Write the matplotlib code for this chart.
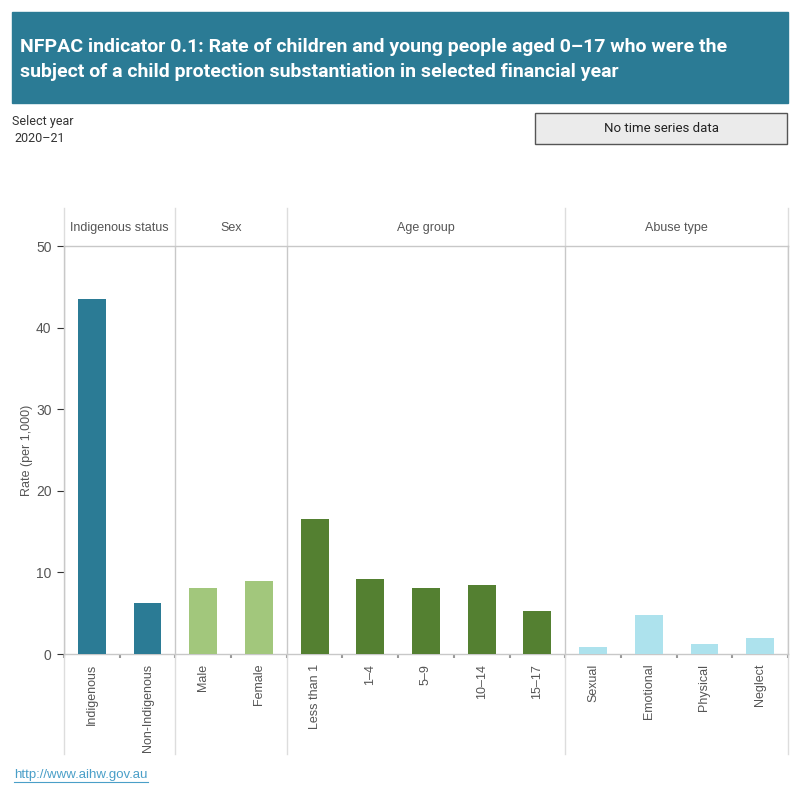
import numpy as np
import matplotlib
matplotlib.use("Agg")
import matplotlib.pyplot as plt
from matplotlib.lines import Line2D
from matplotlib.patches import Rectangle

# data
groups = ["Indigenous status", "Sex", "Age group", "Abuse type"]
group_colors = ["#2b7b95", "#a2c77c", "#548031", "#ade2ed"]
indig_labels = ["Indigenous", "Non-Indigenous"]
indig_rates = [43.5, 6.2]
sex_labels = ["Male", "Female"]
sex_rates = [8.1, 9.0]
age_labels = ["Less than 1", "1\u20134", "5\u20139", "10\u201314", "15\u201317"]
age_rates = [16.6, 9.2, 8.1, 8.4, 5.3]
abuse_labels = ["Sexual", "Emotional", "Physical", "Neglect"]
abuse_rates = [0.9, 4.8, 1.2, 2.0]
yticks = [0, 10, 20, 30, 40, 50]

plt.rcParams['font.family'] = ['Roboto', 'DejaVu Sans']
lib = ["Liberation Sans", "DejaVu Sans"]

fig = plt.figure(figsize=(8, 8), dpi=100)

# title banner
fig.patches.append(Rectangle((12/800, 1-103/800), 776/800, 91/800,
                             transform=fig.transFigure, color="#2b7b95", zorder=0))
fig.text(20/800, 1-47/800, "NFPAC indicator 0.1: Rate of children and young people aged 0\u201317 who were the",
         color="white", fontsize=14, fontweight="bold", va="center", ha="left")
fig.text(20/800, 1-72/800, "subject of a child protection substantiation in selected financial year",
         color="white", fontsize=14, fontweight="bold", va="center", ha="left")

fig.text(12/800, 1-122/800, "Select year", fontsize=9, color="#333333", va="center")
fig.text(14/800, 1-138/800, "2020\u201321", fontsize=9, color="#333333", va="center")

fig.patches.append(Rectangle((535/800, 1-144/800), 252/800, 31/800, transform=fig.transFigure,
                             facecolor="#ebebeb", edgecolor="#555555", linewidth=1))
fig.text(661/800, 1-129/800, "No time series data", fontsize=9.5, color="#222222",
         ha="center", va="center")

fig.text(14/800, 1-775/800, "http://www.aihw.gov.au", fontsize=9.5, color="#4a9fc8",
         va="center", ha="left", family=lib)
fig.lines.append(Line2D([14/800, 148/800], [1-782/800, 1-782/800], transform=fig.transFigure,
                        color="#4a9fc8", linewidth=0.8))

ax = fig.add_axes([64/800, 146/800, 724/800, 408/800])

sets = [(indig_labels, indig_rates), (sex_labels, sex_rates),
        (age_labels, age_rates), (abuse_labels, abuse_rates)]
labels, pos = [], []
bounds = [0]
i = 0
for (labs, vals), col in zip(sets, group_colors):
    x = np.arange(len(vals)) + i + 0.5
    ax.bar(x, vals, width=0.5, color=col, zorder=3)
    labels += labs
    pos += list(x)
    i += len(vals)
    bounds.append(i)

ax.set_xlim(0, bounds[-1])
ax.set_ylim(0, 50)

ax.set_xticks(pos)
ax.set_xticklabels(labels, rotation=90, va="top", ha="center", fontsize=9, color="#555555",
                   family=lib)
ax.tick_params(axis="x", length=0, pad=7)
ax.set_xticks(np.arange(bounds[-1] + 1), minor=True)
ax.tick_params(axis="x", which="minor", length=3, color="#999999", width=1.5)

ax.set_yticks(yticks)
ax.set_yticklabels([str(v) for v in yticks], fontsize=10, color="#555555", family=lib)
ax.tick_params(axis="y", length=5, color="#333333", pad=4)
ax.set_ylabel("Rate (per 1,000)", fontsize=9, color="#555555", labelpad=2, family=lib)

for s in ax.spines.values():
    s.set_color("#c8c8c8")
    s.set_linewidth(1)

trans = ax.get_xaxis_transform()
top = (654 - 208) / 408
bot = (654 - 754) / 408
for b in bounds:
    ax.plot([b, b], [0, 1], transform=trans, color="#c8c8c8", lw=1, zorder=2)
    ax.plot([b, b], [1, top], transform=trans, color="#dddddd", lw=1, clip_on=False)
    ax.plot([b, b], [0, bot], transform=trans, color="#dddddd", lw=1, clip_on=False)

hy = (654 - 228) / 408
for g, a, b in zip(groups, bounds[:-1], bounds[1:]):
    ax.text((a + b) / 2, hy, g, transform=trans, ha="center", va="center",
            fontsize=9, color="#555555", family=lib)

fig.savefig("out.png", dpi=100)
